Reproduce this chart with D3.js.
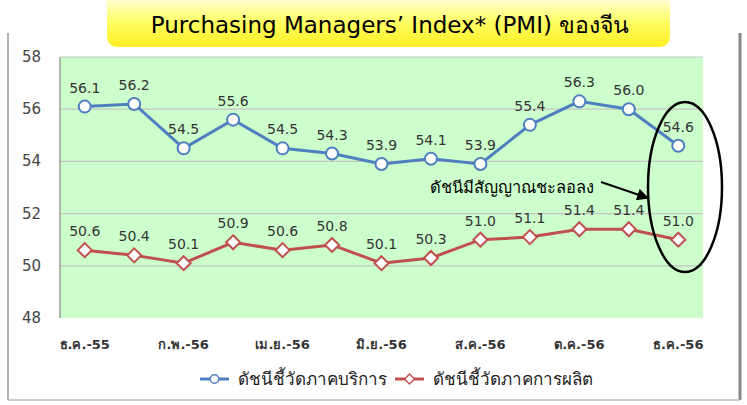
<!DOCTYPE html>
<html>
<head>
<meta charset="utf-8">
<script src="https://d3js.org/d3.v7.min.js"></script>
<style>
  body { margin: 0; background: #fff; }
  text { font-family: "DejaVu Sans", "Noto Sans", sans-serif; }
</style>
</head>
<body>
<svg id="vis"></svg>
<script>
const months = ["ธ.ค.-55", "ม.ค.-56", "ก.พ.-56", "มี.ค.-56", "เม.ย.-56", "พ.ค.-56", "มิ.ย.-56",
                "ก.ค.-56", "ส.ค.-56", "ก.ย.-56", "ต.ค.-56", "พ.ย.-56", "ธ.ค.-56"];
const services = [56.1, 56.2, 54.5, 55.6, 54.5, 54.3, 53.9, 54.1, 53.9, 55.4, 56.3, 56.0, 54.6];
const manufacturing = [50.6, 50.4, 50.1, 50.9, 50.6, 50.8, 50.1, 50.3, 51.0, 51.1, 51.4, 51.4, 51.0];
const yTicks = [48, 50, 52, 54, 56, 58];
const seriesNames = ["ดัชนีชี้วัดภาคบริการ", "ดัชนีชี้วัดภาคการผลิต"];

const width = 747, height = 405;
const plot = {left: 60, right: 703, top: 57, bottom: 318};

let svg = d3.select("#vis").attr("width", width).attr("height", height);
let defs = svg.append("defs");

// outer frame
svg.append("line").attr("x1", 8).attr("x2", 8).attr("y1", 33).attr("y2", 400)
    .attr("stroke", "#999").attr("stroke-width", 1.5);
svg.append("line").attr("x1", 740).attr("x2", 740).attr("y1", 33).attr("y2", 400)
    .attr("stroke", "#888").attr("stroke-width", 3);
svg.append("line").attr("x1", 8).attr("x2", 740).attr("y1", 400).attr("y2", 400)
    .attr("stroke", "#bbb").attr("stroke-width", 1.5);

let x = d3.scalePoint().domain(months).range([plot.left, plot.right]).padding(0.5);
let y = d3.scaleLinear().domain([48, 58]).range([plot.bottom, plot.top]);

// plot background
svg.append("rect")
    .attr("x", plot.left).attr("y", plot.top)
    .attr("width", plot.right - plot.left).attr("height", plot.bottom - plot.top)
    .attr("fill", "#ccffcc");

// gridlines
svg.selectAll(".grid")
    .data(yTicks.filter(t => t > 48))
    .join("line")
    .attr("class", "grid")
    .attr("x1", plot.left).attr("x2", plot.right)
    .attr("y1", d => y(d)).attr("y2", d => y(d))
    .attr("stroke", "#c4c4c4").attr("stroke-width", 1.2);

svg.append("line").attr("x1", plot.left).attr("x2", plot.left)
    .attr("y1", plot.top).attr("y2", plot.bottom)
    .attr("stroke", "#888").attr("stroke-width", 1.2);

// y axis labels
svg.selectAll(".ylab")
    .data(yTicks)
    .join("text")
    .attr("class", "ylab")
    .attr("x", 41).attr("y", d => y(d) + 5)
    .attr("text-anchor", "end")
    .attr("font-size", 15)
    .attr("fill", "#444")
    .text(d => d);

// x axis labels (every other month)
svg.selectAll(".xlab")
    .data(months.filter((m, i) => i % 2 === 0))
    .join("text")
    .attr("class", "xlab")
    .attr("x", d => x(d)).attr("y", 349)
    .attr("text-anchor", "middle")
    .attr("font-size", 13)
    .attr("font-weight", "bold")
    .attr("fill", "#333")
    .text(d => d);

const series = [
    {name: seriesNames[0], values: services, color: "#4f7fc0", shape: "circle"},
    {name: seriesNames[1], values: manufacturing, color: "#c0504d", shape: "diamond"}
];

let line = d3.line().x((d, i) => x(months[i])).y(d => y(d));

function marker(g, shape, color) {
    if (shape === "circle") {
        g.append("circle").attr("r", 6).attr("fill", "#fff")
            .attr("stroke", color).attr("stroke-width", 2);
    } else {
        g.append("path").attr("d", "M0,-7L7,0L0,7L-7,0Z").attr("fill", "#fff")
            .attr("stroke", color).attr("stroke-width", 2);
    }
}

series.forEach(s => {
    svg.append("path")
        .datum(s.values)
        .attr("d", line)
        .attr("fill", "none")
        .attr("stroke", s.color)
        .attr("stroke-width", 3);

    s.values.forEach((v, i) => {
        let g = svg.append("g").attr("transform", `translate(${x(months[i])},${y(v)})`);
        marker(g, s.shape, s.color);
    });

    svg.selectAll(null)
        .data(s.values)
        .join("text")
        .attr("x", (d, i) => x(months[i]))
        .attr("y", d => y(d) - 14)
        .attr("text-anchor", "middle")
        .attr("font-size", 14)
        .attr("fill", "#333")
        .text(d => d.toFixed(1));
});

// annotation
svg.append("ellipse")
    .attr("cx", 685).attr("cy", 187).attr("rx", 37).attr("ry", 85)
    .attr("fill", "none").attr("stroke", "#000").attr("stroke-width", 2.5);
defs.append("marker")
    .attr("id", "arrow").attr("viewBox", "0 0 10 10")
    .attr("refX", 9).attr("refY", 5)
    .attr("markerWidth", 7).attr("markerHeight", 6)
    .attr("markerUnits", "strokeWidth")
    .attr("orient", "auto")
    .append("path").attr("d", "M0,0L10,5L0,10Z").attr("fill", "#000");
svg.append("line")
    .attr("x1", 601).attr("y1", 182).attr("x2", 648).attr("y2", 198)
    .attr("stroke", "#000").attr("stroke-width", 2)
    .attr("marker-end", "url(#arrow)");
svg.append("text")
    .attr("x", 430).attr("y", 193)
    .attr("font-size", 16.5)
    .attr("fill", "#000")
    .text("ดัชนีมีสัญญาณชะลอลง");

// title box
let grad = defs.append("linearGradient")
    .attr("id", "titleGrad").attr("x1", 0).attr("x2", 0).attr("y1", 0).attr("y2", 1);
grad.append("stop").attr("offset", "0%").attr("stop-color", "#ffffff");
grad.append("stop").attr("offset", "55%").attr("stop-color", "#ffff66");
grad.append("stop").attr("offset", "100%").attr("stop-color", "#ffee22");
svg.append("rect")
    .attr("x", 107).attr("y", -10).attr("width", 563).attr("height", 57)
    .attr("rx", 10).attr("fill", "url(#titleGrad)");
svg.append("text")
    .attr("x", 390).attr("y", 33)
    .attr("text-anchor", "middle")
    .attr("font-size", 23)
    .attr("fill", "#000")
    .text("Purchasing Managers’ Index* (PMI) ของจีน");

// legend
series.forEach((s, i) => {
    let lx = i === 0 ? 200 : 395;
    svg.append("line").attr("x1", lx).attr("x2", lx + 29)
        .attr("y1", 379).attr("y2", 379)
        .attr("stroke", s.color).attr("stroke-width", 3);
    let g = svg.append("g").attr("transform", `translate(${lx + 14.5},379) scale(0.7)`);
    marker(g, s.shape, s.color);
    svg.append("text").attr("x", lx + 38).attr("y", 385)
        .attr("font-size", 17).attr("fill", "#222")
        .text(s.name);
});
</script>
</body>
</html>
